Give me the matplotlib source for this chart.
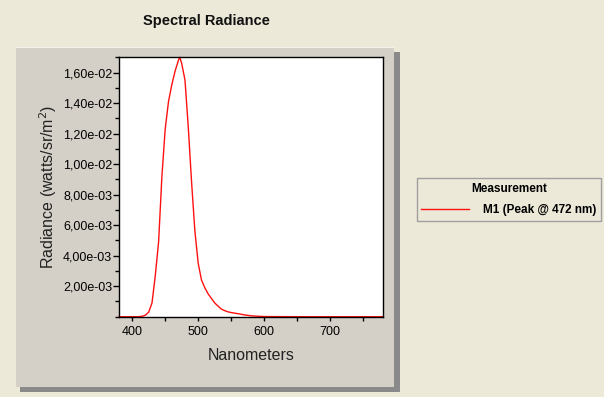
import matplotlib.pyplot as plt
from matplotlib.patches import Rectangle
from matplotlib.ticker import FuncFormatter, MultipleLocator

# data
wavelength = [380, 400, 410, 415, 420, 425, 430, 435, 440, 445, 450, 455,
              460, 465, 470, 472, 475, 480, 485, 490, 495, 500, 505, 510,
              515, 520, 525, 530, 535, 540, 545, 550, 560, 570, 580, 590,
              600, 650, 700, 780]
radiance = [0, 0, 0, 0.00003, 0.0001, 0.0003, 0.0009, 0.0027, 0.0049,
            0.0092, 0.0123, 0.0141, 0.0152, 0.0161, 0.0168, 0.0170, 0.0166,
            0.0155, 0.0124, 0.0088, 0.0056, 0.0035, 0.0024, 0.0019, 0.0015,
            0.0012, 0.0009, 0.0007, 0.0005, 0.0004, 0.00032, 0.00027,
            0.0002, 0.00012, 0.00006, 0.00003, 0.00001, 0, 0, 0]
series_name = 'M1 (Peak @ 472 nm)'
x_ticks = [400, 500, 600, 700]
y_ticks = [0.002, 0.004, 0.006, 0.008, 0.010, 0.012, 0.014, 0.016]

plt.rcParams['font.family'] = ['Liberation Sans', 'DejaVu Sans']

W, H = 604, 397
fig = plt.figure(figsize=(W / 100, H / 100), dpi=100)
fig.patch.set_facecolor('#ECE9D8')

def box(x0, y0, x1, y1, **kw):
    # rectangle in pixel coords (top-left origin), behind the axes
    fig.patches.append(Rectangle((x0 / W, 1 - y1 / H), (x1 - x0) / W, (y1 - y0) / H,
                                 transform=fig.transFigure, figure=fig, zorder=-5, **kw))

# gray panel with shadow
box(394, 52, 400, 392, facecolor='#8a8a8a', edgecolor='none')
box(20, 386, 400, 392, facecolor='#8a8a8a', edgecolor='none')
box(16, 47, 394, 387, facecolor='#D4D0C8', edgecolor='none')
box(16, 47, 394, 48, facecolor='#F4F2EE', edgecolor='none')

ax = fig.add_axes([119 / W, 1 - 316.7 / H, (383 - 119) / W, (316.7 - 57.3) / H])
ax.set_facecolor('white')
line, = ax.plot(wavelength, radiance, color='#FF1010', linewidth=1, clip_on=False)

ax.set_xlim(380, 780)
ax.set_ylim(0, 0.0170)
ax.set_xticks(x_ticks)
ax.xaxis.set_minor_locator(MultipleLocator(50))
ax.set_yticks(y_ticks)
ax.yaxis.set_minor_locator(MultipleLocator(0.001))
ax.yaxis.set_major_formatter(FuncFormatter(lambda v, p: f'{v:.2e}'.replace('.', ',')))
ax.tick_params(which='major', direction='out', length=4, width=1, labelsize=9, pad=1)
ax.tick_params(which='minor', direction='out', length=3, width=1)
ax.tick_params(axis='x', which='both', length=3, pad=4)
for s in ax.spines.values():
    s.set_linewidth(1)

ax.set_xlabel('Nanometers', fontsize=11.5, color='#222222', labelpad=7)
ax.set_ylabel('Radiance (watts/sr/m$^2$)', fontsize=11.5, color='#222222', labelpad=3)

fig.text(206.5 / W, 1 - 21.5 / H, 'Spectral Radiance', ha='center', va='center',
         fontsize=10.5, fontweight='bold', color='#111111')

leg = ax.legend([line], [series_name], title='Measurement', loc='upper left',
                bbox_to_anchor=(416.7 / W, 1 - 178.3 / H), bbox_transform=fig.transFigure,
                fontsize=8.5, title_fontproperties={'weight': 'bold', 'size': 8.5},
                frameon=True, fancybox=False, framealpha=1, facecolor='#ECE9D8',
                edgecolor='#A0A0A0', handlelength=4.0, handletextpad=1.2,
                borderpad=0.4, borderaxespad=0, labelspacing=0.75)
for t in leg.get_texts():
    t.set_fontweight('bold')
leg.set_clip_on(False)

fig.savefig('out.png', dpi=100, facecolor=fig.get_facecolor())
